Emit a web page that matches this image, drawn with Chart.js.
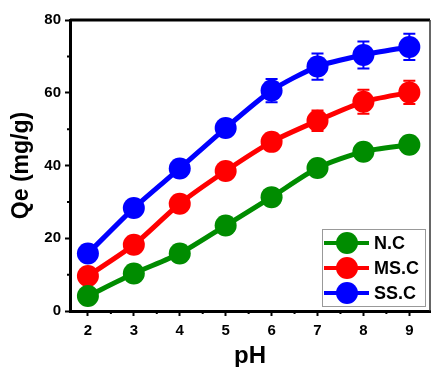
<!DOCTYPE html>
<html lang="en">

<head>
    <meta charset="UTF-8">
    <title>Qe vs pH</title>
    <script src="https://cdn.jsdelivr.net/npm/chart.js"></script>
    <style>
        body { margin: 0; background: #fff; }
        #grafico { display: block; }
    </style>
</head>

<body>
    <canvas id="grafico" width="432" height="367"></canvas>
</body>

</html>
<script>
    // pH values and adsorption capacity Qe (mg/g) for each sample
    const phValues = [2, 3, 4, 5, 6, 7, 8, 9];
    const ncQe = [4.1, 10.3, 15.8, 23.5, 31.3, 39.3, 43.8, 45.7];
    const mscQe = [9.6, 18.2, 29.5, 38.5, 46.5, 52.3, 57.5, 60.1];
    const sscQe = [15.8, 28.3, 39.2, 50.3, 60.6, 67.2, 70.4, 72.6];

    // standard deviations (error bars)
    const ncErr = [0.8, 1.0, 1.0, 1.2, 1.5, 1.5, 1.8, 2.0];
    const mscErr = [1.0, 1.2, 1.5, 1.8, 2.2, 2.8, 3.3, 3.2];
    const sscErr = [1.2, 1.5, 1.5, 2.0, 3.2, 3.6, 3.7, 3.6];

    const seriesNames = ['N.C', 'MS.C', 'SS.C'];
    const seriesColors = ['#008C00', '#FF0000', '#0000FF'];
    const yTicks = [0, 20, 40, 60, 80];

    const fonte = 'Liberation Sans, Arial, sans-serif';

    function pontos(valores) {
        return phValues.map((x, i) => ({ x: x, y: valores[i] }));
    }

    const series = [ncQe, mscQe, sscQe];
    const erros = [ncErr, mscErr, sscErr];

    // error bars with caps, drawn under the markers
    const errorBars = {
        id: 'errorBars',
        beforeDatasetsDraw(chart) {
            const ctx = chart.ctx;
            const xs = chart.scales.x, ys = chart.scales.y;
            ctx.save();
            chart.data.datasets.forEach((ds, d) => {
                ctx.strokeStyle = ds.borderColor;
                ctx.lineWidth = 2;
                ds.data.forEach((p, i) => {
                    const e = erros[d][i];
                    const px = xs.getPixelForValue(p.x);
                    const top = ys.getPixelForValue(p.y + e);
                    const bot = ys.getPixelForValue(p.y - e);
                    ctx.beginPath();
                    ctx.moveTo(px, top); ctx.lineTo(px, bot);
                    ctx.moveTo(px - 6, top); ctx.lineTo(px + 6, top);
                    ctx.moveTo(px - 6, bot); ctx.lineTo(px + 6, bot);
                    ctx.stroke();
                });
            });
            ctx.restore();
        }
    };

    // top/right frame lines and minor ticks
    const moldura = {
        id: 'moldura',
        afterDraw(chart) {
            const ctx = chart.ctx;
            const a = chart.chartArea;
            const xs = chart.scales.x, ys = chart.scales.y;
            ctx.save();
            ctx.strokeStyle = '#000';
            ctx.lineWidth = 3;
            ctx.beginPath();
            ctx.moveTo(a.left, a.top); ctx.lineTo(a.right, a.top);
            ctx.stroke();
            ctx.strokeStyle = '#333';
            ctx.lineWidth = 1.5;
            ctx.beginPath();
            ctx.moveTo(a.right, a.top); ctx.lineTo(a.right, a.bottom);
            ctx.stroke();

            ctx.strokeStyle = '#000';
            ctx.lineWidth = 2;
            ctx.beginPath();
            for (let v = 10; v < 80; v += 20) {
                const py = ys.getPixelForValue(v);
                ctx.moveTo(a.left - 3, py); ctx.lineTo(a.left, py);
            }
            for (let v = 2.5; v < 9.4; v += 1) {
                const px = xs.getPixelForValue(v);
                ctx.moveTo(px, a.bottom); ctx.lineTo(px, a.bottom + 3);
            }
            ctx.stroke();
            ctx.restore();
        }
    };

    // legend box in the lower right corner
    const legenda = {
        id: 'legenda',
        afterDraw(chart) {
            const ctx = chart.ctx;
            const bx = 322, by = 229, bw = 103, bh = 77;
            ctx.save();
            ctx.fillStyle = '#fff';
            ctx.fillRect(bx, by, bw, bh);
            ctx.strokeStyle = '#999';
            ctx.lineWidth = 1;
            ctx.strokeRect(bx + 0.5, by + 0.5, bw, bh);
            ctx.font = 'bold 18px ' + fonte;
            ctx.textBaseline = 'middle';
            chart.data.datasets.forEach((ds, i) => {
                const cy = by + 14 + i * 25;
                ctx.strokeStyle = ds.borderColor;
                ctx.lineWidth = 4;
                ctx.beginPath();
                ctx.moveTo(bx + 2, cy); ctx.lineTo(bx + 47, cy);
                ctx.stroke();
                ctx.fillStyle = ds.borderColor;
                ctx.beginPath();
                ctx.arc(bx + 25, cy, 11, 0, Math.PI * 2);
                ctx.fill();
                ctx.fillStyle = '#000';
                ctx.fillText(ds.label, bx + 52, cy + 1);
            });
            ctx.restore();
        }
    };

    const data1 = {
        datasets: series.map((valores, i) => ({
            label: seriesNames[i],
            data: pontos(valores),
            borderColor: seriesColors[i],
            backgroundColor: seriesColors[i],
            borderWidth: 5,
            pointRadius: 11,
            pointHoverRadius: 11,
            pointBorderWidth: 0,
            tension: 0.25
        }))
    };

    const config1 = {
        type: 'line',
        data: data1,
        options: {
            responsive: false,
            animation: false,
            layout: { autoPadding: false, padding: { top: 20, right: 2, left: 0, bottom: 0 } },
            plugins: {
                legend: { display: false },
                tooltip: { enabled: false }
            },
            scales: {
                x: {
                    type: 'linear',
                    min: 1.61,
                    max: 9.45,
                    afterFit: s => { s.height = 56; s.paddingLeft = 0; s.paddingRight = 0; },
                    afterBuildTicks: s => { s.ticks = phValues.map(v => ({ value: v })); },
                    border: { color: '#000', width: 3 },
                    grid: { drawOnChartArea: false, tickLength: 5, tickWidth: 2, tickColor: '#000' },
                    ticks: { color: '#000', padding: 6, font: { family: fonte, size: 15, weight: 'bold' } },
                    title: {
                        display: true,
                        text: 'pH',
                        color: '#000',
                        padding: { top: 0, bottom: -4 },
                        font: { family: fonte, size: 24, weight: 'bold' }
                    }
                },
                y: {
                    min: 0,
                    max: 80,
                    afterFit: s => { s.width = 70; },
                    afterBuildTicks: s => { s.ticks = yTicks.map(v => ({ value: v })); },
                    border: { color: '#000', width: 3 },
                    grid: { drawOnChartArea: false, tickLength: 5, tickWidth: 2, tickColor: '#000' },
                    ticks: { color: '#000', padding: 4, font: { family: fonte, size: 15, weight: 'bold' } },
                    title: {
                        display: true,
                        text: 'Qe (mg/g)',
                        color: '#000',
                        padding: { top: 8, bottom: 0 },
                        font: { family: fonte, size: 23, weight: 'bold' }
                    }
                }
            }
        },
        plugins: [errorBars, moldura, legenda]
    };

    const myChart = new Chart(document.getElementById('grafico'), config1);
</script>
